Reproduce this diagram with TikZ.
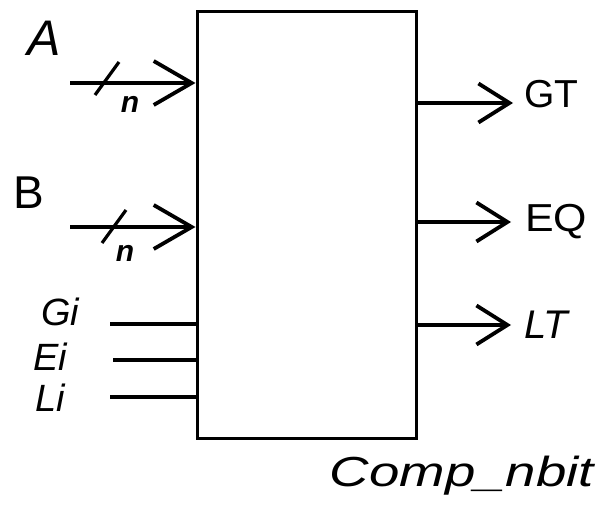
\documentclass[tikz,border=0pt]{standalone}
\usepackage{fontspec}
\setmainfont{Liberation Sans}
\usetikzlibrary{arrows.meta}
\tikzset{
  wire/.style={line width=3.8pt},
  bigarr/.style={wire,-{Straight Barb[length=38pt,width=44pt,line width=3.8pt]}},
  outarr/.style={wire,-{Straight Barb[length=31pt,width=39pt,line width=3.8pt]}},
  busmark/.style={line width=3.2pt},
  lbl/.style={inner sep=0pt,font=\fontsize{39}{41}\selectfont},
  smalllbl/.style={inner sep=0pt,font=\fontsize{38}{40}\selectfont\itshape},
  nlbl/.style={inner sep=0pt,font=\fontsize{30}{32}\selectfont\bfseries\itshape},
}
\begin{document}
\begin{tikzpicture}[x=1pt,y=-1pt]
\useasboundingbox (0,0) rectangle (596,518);
\node[draw,line width=3pt,minimum width=219pt,minimum height=426pt,inner sep=0pt] (box) at (306.5,225) {};
% inputs A and B
\node[lbl,font=\fontsize{50}{52}\selectfont\itshape] (la) at (44,38) {A};
\node[lbl,font=\fontsize{46}{48}\selectfont] (lb) at (29,193) {B};
\coordinate (a0) at (70,83);
\coordinate (b0) at (70,227);
\draw[bigarr] (a0) -- (a0 -| box.west);
\draw[bigarr] (b0) -- (b0 -| box.west);
\coordinate (sa) at (107,79);
\coordinate (sb) at (114,227);
\draw[busmark] ([shift={(-12,16)}]sa) -- ([shift={(12,-17)}]sa);
\draw[busmark] ([shift={(-12,16)}]sb) -- ([shift={(12,-17)}]sb);
\node[nlbl] (na) at (130,104) {n};
\node[nlbl] (nb) at (125,253) {n};
% Gi Ei Li
\node[smalllbl] (gi) at (60,312) {Gi};
\node[smalllbl] (ei) at (50,357) {Ei};
\node[smalllbl] (li) at (50,398) {Li};
\coordinate (g0) at (110,324);
\coordinate (e0) at (113,360);
\coordinate (l0) at (110,397);
\draw[wire] (g0) -- (g0 -| box.west);
\draw[wire] (e0) -- (e0 -| box.west);
\draw[wire] (l0) -- (l0 -| box.west);
% outputs
\node[lbl,anchor=west] (gt) at (524,94) {GT};
\node[lbl,anchor=west,xscale=1.1] (eq) at (525,222) {EQ};
\node[lbl,anchor=west,font=\fontsize{40}{42}\selectfont\itshape] (lt) at (524,325) {LT};
\coordinate (gy) at (513,103);
\coordinate (ey) at (511,222);
\coordinate (ly) at (511,325);
\draw[outarr] (box.east |- gy) -- (gy);
\draw[outarr] (box.east |- ey) -- (ey);
\draw[outarr] (box.east |- ly) -- (ly);
% name
\node[lbl,font=\fontsize{42}{44}\selectfont\itshape,xscale=1.3] (name) at (462,476) {Comp\_nbit};
\end{tikzpicture}
\end{document}
